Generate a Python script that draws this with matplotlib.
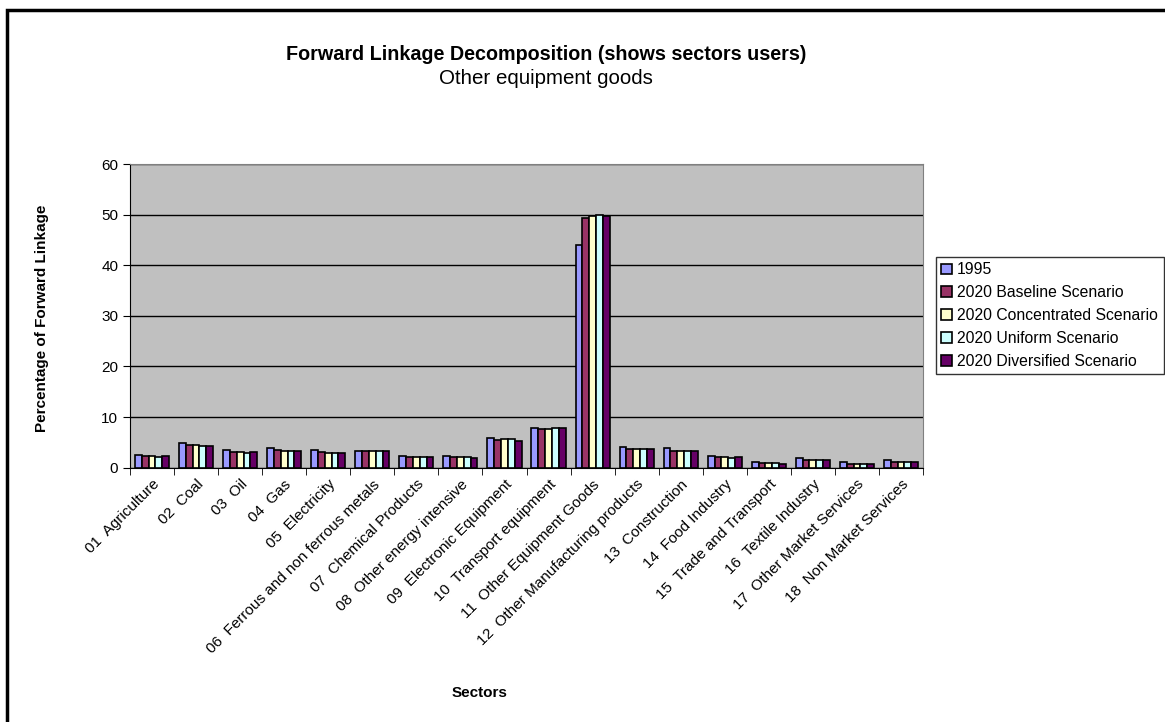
import matplotlib
matplotlib.use("Agg")
import matplotlib.pyplot as plt
from matplotlib.patches import Rectangle
import numpy as np

# Data
sectors = ["01  Agriculture", "02  Coal", "03  Oil", "04  Gas", "05  Electricity",
           "06  Ferrous and non ferrous metals", "07  Chemical Products",
           "08  Other energy intensive", "09  Electronic Equipment",
           "10  Transport equipment", "11  Other Equipment Goods",
           "12  Other Manufacturing products", "13  Construction",
           "14  Food Industry", "15  Trade and Transport", "16  Textile Industry",
           "17  Other Market Services", "18  Non Market Services"]

y1995 =         [2.5, 4.9, 3.4, 3.8, 3.4, 3.3, 2.3, 2.2, 5.8, 7.9, 44.0, 4.1, 3.8, 2.3, 1.2, 1.8, 1.1, 1.5]
baseline =      [2.2, 4.5, 3.1, 3.4, 3.0, 3.3, 2.1, 2.0, 5.4, 7.7, 49.3, 3.7, 3.3, 2.1, 0.9, 1.6, 0.8, 1.1]
concentrated =  [2.2, 4.4, 3.0, 3.3, 2.9, 3.3, 2.1, 2.0, 5.6, 7.7, 49.7, 3.6, 3.3, 2.0, 0.9, 1.6, 0.7, 1.2]
uniform =       [2.0, 4.2, 2.8, 3.2, 2.9, 3.3, 2.1, 2.0, 5.6, 7.8, 50.0, 3.6, 3.3, 1.9, 0.9, 1.5, 0.8, 1.2]
diversified =   [2.2, 4.3, 3.0, 3.3, 2.9, 3.3, 2.1, 1.9, 5.3, 7.9, 49.7, 3.6, 3.3, 2.0, 0.8, 1.5, 0.7, 1.1]

series = [y1995, baseline, concentrated, uniform, diversified]
names = ["1995", "2020 Baseline Scenario", "2020 Concentrated Scenario",
         "2020 Uniform Scenario", "2020 Diversified Scenario"]
colors = ["#9999FF", "#993366", "#FFFFCC", "#CCFFFF", "#660066"]

plt.rcParams['font.family'] = ['Liberation Sans', 'DejaVu Sans']

fig = plt.figure(figsize=(11.65, 7.22), dpi=100)

# outer chart border (only top/left visible in the reference)
fig.patches.append(Rectangle((7 / 1165, -0.02), 1.2, 1 - 10 / 722 + 0.02,
                             transform=fig.transFigure, fill=False,
                             edgecolor="black", linewidth=2.5))

ax = fig.add_axes([130 / 1165, 1 - 467.6 / 722, 793 / 1165, 303.6 / 722])
ax.set_facecolor("#C0C0C0")

x = np.arange(len(sectors))
w = 0.155
for i, (vals, name, c) in enumerate(zip(series, names, colors)):
    ax.bar(x + (i - 2) * w, vals, w, color=c, edgecolor="black",
           linewidth=1.2, label=name, zorder=3)

ax.set_xlim(-0.5, len(sectors) - 0.5)
ax.set_ylim(0, 60)
ax.set_yticks(range(0, 61, 10))
ax.yaxis.grid(True, color="black", linewidth=1, zorder=1)
ax.set_xticks(x)
ax.set_xticklabels(sectors, rotation=45, ha="right", va="top",
                   rotation_mode="anchor", fontsize=11)
ax.set_xticks(np.arange(-0.5, len(sectors), 1), minor=True)
ax.tick_params(axis="x", which="major", length=0, pad=7)
ax.tick_params(axis="x", which="minor", length=5, direction="out")
ax.tick_params(axis="y", labelsize=11, length=5)
for s in ["top", "right"]:
    ax.spines[s].set_color("#808080")
ax.spines["left"].set_color("black")
ax.spines["bottom"].set_color("black")

fig.text(42 / 1165, 1 - 318 / 722, "Percentage of Forward Linkage",
         fontweight="bold", fontsize=11, rotation=90, ha="center", va="center")
fig.text(480 / 1165, 1 - 693 / 722, "Sectors", fontweight="bold",
         fontsize=11, ha="center", va="center")

fig.text(546 / 1165, 1 - 55 / 722,
         "Forward Linkage Decomposition (shows sectors users)",
         fontweight="bold", fontsize=14.2, ha="center", va="center")
fig.text(546 / 1165, 1 - 78 / 722, "Other equipment goods",
         fontsize=14.8, ha="center", va="center")

leg = ax.legend(loc="upper left", bbox_to_anchor=(936 / 1165, 1 - 257 / 722),
                bbox_transform=fig.transFigure, fontsize=11.3, frameon=True,
                fancybox=False, edgecolor="black", handlelength=0.7,
                handleheight=0.7, handletextpad=0.3, borderpad=0.35,
                labelspacing=0.5, borderaxespad=0)
leg.get_frame().set_linewidth(1)

plt.savefig("out.png", dpi=100)
plt.close()
